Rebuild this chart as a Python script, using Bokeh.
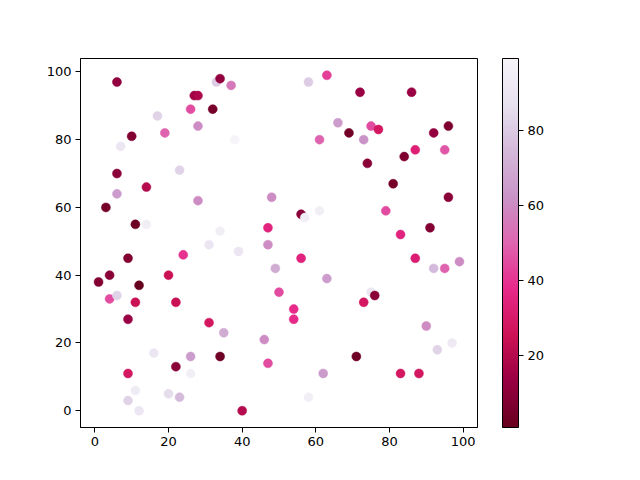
from bokeh.plotting import figure
from bokeh.models import LinearColorMapper, ColorBar, FixedTicker, ColumnDataSource, Range1d
from bokeh.embed import file_html
from bokeh.resources import INLINE

x = [6, 27, 28, 33, 34, 26, 32, 37, 58, 63, 72, 86, 17, 10, 19, 28, 7, 38, 61, 66,
     69, 73, 75, 77, 74, 84, 92, 96, 87, 95, 6, 14, 6, 3, 11, 14, 23, 28, 34, 31,
     24, 39, 20, 9, 1, 4, 12, 4, 6, 11, 22, 9, 48, 47, 47, 49, 56, 57, 61, 56,
     50, 63, 54, 54, 31, 35, 26, 16, 34, 22, 9, 26, 11, 20, 23, 9, 12, 40, 46, 47,
     62, 58, 71, 73, 75, 76, 79, 81, 83, 87, 91, 92, 95, 99, 96, 90, 93, 97, 83, 88]
y = [97, 93, 93, 97, 98, 89, 89, 96, 97, 99, 94, 94, 87, 81, 82, 84, 78, 80, 80, 85,
     82, 80, 84, 83, 73, 75, 82, 84, 77, 77, 70, 66, 64, 60, 55, 55, 71, 62, 53, 49,
     46, 47, 40, 45, 38, 40, 37, 33, 34, 32, 32, 27, 63, 54, 49, 42, 58, 57, 59, 45,
     35, 39, 30, 27, 26, 23, 16, 17, 16, 13, 11, 11, 6, 5, 4, 3, 0, 0, 21, 14,
     11, 4, 16, 32, 35, 34, 59, 67, 52, 45, 54, 42, 42, 44, 63, 25, 18, 20, 11, 11]
c = [12, 15, 18, 80, 12, 45, 5, 55, 80, 42, 14, 14, 82, 8, 50, 60, 90, 99, 50, 65,
     4, 62, 45, 28, 10, 7, 12, 7, 33, 47, 10, 20, 65, 5, 3, 95, 82, 60, 95, 90,
     40, 90, 25, 8, 8, 10, 1, 45, 82, 25, 25, 14, 60, 35, 60, 70, 10, 95, 95, 35,
     45, 65, 38, 38, 28, 70, 65, 90, 3, 10, 28, 95, 93, 85, 75, 82, 90, 20, 60, 45,
     65, 95, 3, 28, 90, 10, 45, 5, 35, 32, 8, 75, 50, 60, 10, 60, 82, 92, 28, 28]
cbar_ticks = [20, 40, 60, 80]

# PuRd (ColorBrewer 9), reversed -> matplotlib PuRd_r
purd = ["#67001f", "#980043", "#ce1256", "#e7298a", "#df65b0",
        "#c994c7", "#d4b9da", "#e7e1ef", "#f7f4f9"]


def hex2rgb(h):
    return tuple(int(h[i:i + 2], 16) for i in (1, 3, 5))


def build_palette(anchors, n=256):
    rgb = [hex2rgb(a) for a in anchors]
    out = []
    for i in range(n):
        t = i / (n - 1) * (len(rgb) - 1)
        k = min(int(t), len(rgb) - 2)
        f = t - k
        r = [round(rgb[k][j] + (rgb[k + 1][j] - rgb[k][j]) * f) for j in range(3)]
        out.append("#%02x%02x%02x" % tuple(r))
    return out


palette = build_palette(purd)
mapper = LinearColorMapper(palette=palette, low=min(c), high=max(c))

src = ColumnDataSource(dict(x=x, y=y, c=c))

p = figure(frame_width=397, frame_height=369, output_backend="svg", toolbar_location=None,
           x_range=Range1d(-3.9, 103.9), y_range=Range1d(-4.95, 103.95),
           min_border_left=80, min_border_top=58, min_border_bottom=53, min_border_right=163)
p.scatter("x", "y", source=src, size=9, line_color={"field": "c", "transform": mapper},
          fill_color={"field": "c", "transform": mapper}, line_width=0.5)

p.xgrid.visible = False
p.ygrid.visible = False
p.outline_line_color = "black"
p.outline_line_width = 1
p.background_fill_color = "white"
p.border_fill_color = "white"
for ax in (p.xaxis[0], p.yaxis[0]):
    ax.ticker = FixedTicker(ticks=[0, 20, 40, 60, 80, 100])
    ax.major_label_text_font = "DejaVu Sans"
    ax.major_label_text_font_size = "13px"
    ax.major_label_text_color = "black"
    ax.axis_line_color = "black"
    ax.major_tick_line_color = "black"
    ax.major_tick_out = 5
    ax.major_tick_in = 0
    ax.minor_tick_line_color = None
    ax.major_label_standoff = 4

cb = ColorBar(color_mapper=mapper, ticker=FixedTicker(ticks=cbar_ticks), width=16, height=369,
              location=(422, 0), margin=0, padding=0, major_tick_out=5, major_tick_in=0,
              major_tick_line_color="black", minor_tick_line_color=None,
              bar_line_color="black", border_line_color=None,
              background_fill_alpha=0, label_standoff=4,
              major_label_text_font="DejaVu Sans", major_label_text_font_size="13px",
              major_label_text_color="black")
p.add_layout(cb, "center")

open("out.html", "w").write(file_html(p, INLINE))
